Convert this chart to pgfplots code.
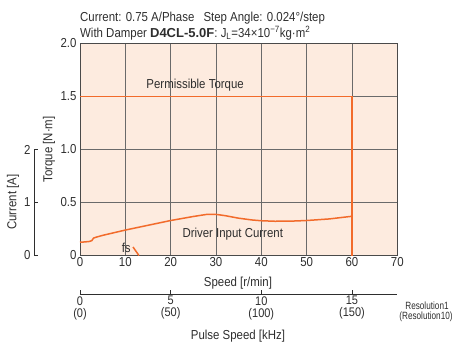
\documentclass[border=0pt]{standalone}
\usepackage{fontspec}
\setmainfont{Liberation Sans}[FakeStretch=0.88]
\newfontfamily\widefont{Liberation Sans}
\newfontfamily\narrowfont{Liberation Sans}[FakeStretch=0.78]
\usepackage{pgfplots}
\pgfplotsset{compat=1.18}

\definecolor{curve}{HTML}{F26B2B}
\definecolor{panel}{HTML}{FDEBDF}
\definecolor{gridc}{HTML}{6A6A6A}
\definecolor{txt}{HTML}{2E2E2E}
\newcommand{\cf}{\fontsize{13bp}{15bp}\selectfont}

\begin{document}
\begin{tikzpicture}[font=\cf, text=txt]
\useasboundingbox (-80bp,-86.5bp) rectangle (373bp,255.5bp);

% torque vs speed
\begin{axis}[
  at={(0,0)}, anchor=south west, scale only axis,
  width=317.3bp, height=212bp,
  xmin=0, xmax=70, ymin=0, ymax=2,
  xtick={0,10,20,30,40,50,60,70}, xticklabels={0,10,20,30,40,50,60,70},
  ytick={0,0.5,1,1.5,2}, yticklabels={0,0.5,1.0,1.5,2.0},
  major tick length=0pt,
  grid=major, major grid style={gridc, line width=0.8bp},
  axis line style={gridc!70!black, line width=0.9bp},
  axis background/.style={fill=panel},
  tick label style={font=\cf, text=txt},
  xticklabel style={yshift=1.5bp},
  /pgf/number format/assume math mode=true,
  clip=false,
]
\addplot[curve, line width=1.8bp] coordinates {(0,1.5) (60,1.5) (60,0)};
\addplot[curve, line width=1.5bp] coordinates {
  (0,0.125) (1,0.128) (2,0.132) (2.6,0.14) (3,0.165) (3.5,0.172)
  (5,0.19) (10,0.24) (15,0.285) (20,0.33) (25,0.368) (28,0.388)
  (30,0.388) (32,0.376) (35,0.352) (38,0.335) (40,0.328) (43,0.323)
  (47,0.325) (50,0.33) (55,0.345) (60,0.37)};
\addplot[curve, line width=1.5bp] coordinates {(11.7,0.08) (13,0)};
\node at (axis cs:25.4,1.61) {Permissible Torque};
\node at (axis cs:33.7,0.197) {Driver Input Current};
\node at (axis cs:10.2,0.075) {fs};
\end{axis}

% current scale
\begin{axis}[
  at={(-46bp,0)}, anchor=south west, scale only axis,
  width=10bp, height=106bp,
  xmin=0, xmax=1, ymin=0, ymax=2,
  axis x line=none, axis y line*=left,
  y axis line style={-, txt, line width=0.8bp},
  ytick={0,1,2}, yticklabels={0,1,2},
  tick align=inside, major tick length=4bp,
  tick style={txt, line width=0.8bp},
  tick label style={font=\cf, text=txt},
  /pgf/number format/assume math mode=true,
]
\addplot[draw=none] coordinates {(0,0)};
\end{axis}

% pulse speed scale
\begin{axis}[
  at={(0,-38.8bp)}, anchor=south west, scale only axis,
  width=317.3bp, height=10bp,
  xmin=0, xmax=17.5, ymin=0, ymax=1,
  axis y line=none, axis x line*=bottom,
  x axis line style={-, txt, line width=0.8bp},
  xtick={0,5,10,15},
  xticklabels={{0\\(0)},{5\\(50)},{10\\(100)},{15\\(150)}},
  xticklabel style={align=center, font=\fontsize{12.5bp}{12bp}\selectfont, text=txt, yshift=1.5bp},
  tick align=inside, major tick length=4bp,
  tick style={txt, line width=0.8bp},
  /pgf/number format/assume math mode=true,
]
\addplot[draw=none] coordinates {(0,0)};
\end{axis}

\node[anchor=base west, inner sep=0] at (0,233.8bp)
  {Current: 0.75 A/Phase\hspace{0.7em}Step Angle: 0.024°/step};
\node[anchor=base west, inner sep=0] at (0,218.2bp)
  {With Damper {\widefont\bfseries D4CL-5.0F}: J\textsubscript{L}=34×10\textsuperscript{−7}kg·m\textsuperscript{2}};
\node[rotate=90] at (-31bp,106bp) {Torque [N·m]};
\node[rotate=90] at (-67bp,53.5bp) {Current [A]};
\node[anchor=base] at (158bp,-31.2bp) {Speed [r/min]};
\node[anchor=base] at (158bp,-83.5bp) {Pulse Speed [kHz]};
\node[anchor=base, font=\narrowfont\fontsize{10.5bp}{12bp}\selectfont] at (347bp,-53.5bp) {Resolution1};
\node[anchor=base, font=\narrowfont\fontsize{10.5bp}{12bp}\selectfont] at (346bp,-64bp) {(Resolution10)};
\end{tikzpicture}
\end{document}
